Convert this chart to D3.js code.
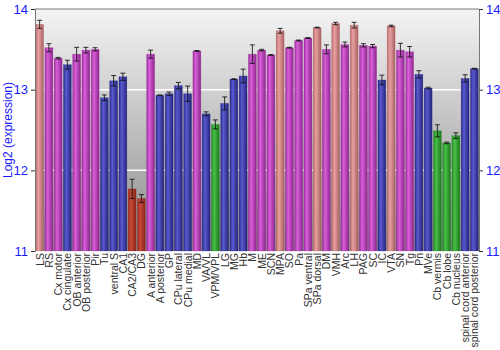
<!DOCTYPE html>
<html><head><meta charset="utf-8">
<script src="https://cdn.jsdelivr.net/npm/d3@7"></script>
<style>body{margin:0;background:#fff}</style>
</head><body><svg id="c" width="500" height="350"></svg>
<script>
const categories = ["LS","RS","Cx motor","Cx cingulate","OB anterior","OB posterior","Pir","Tu","ventral S","CA1","CA2/CA3","DG","A anterior","A posterior","GP","CPu lateral","CPu medial","MD","VA/VL","VPM/VPL","LG","MG","Hb","M","ME","SCN","MPA","SO","Pa","SPa ventral","SPa dorsal","DM","VMH","Arc","LH","PAG","SC","IC","VTA","SN","Tg","Pn","MVe","Cb vermis","Cb lobe","Cb nucleus","spinal cord anterior","spinal cord posterior"];
const values = [13.81,13.52,13.39,13.31,13.44,13.49,13.50,12.90,13.11,13.16,11.77,11.65,13.44,12.93,12.95,13.05,12.95,13.48,12.70,12.57,12.83,13.13,13.17,13.44,13.49,13.43,13.73,13.52,13.61,13.64,13.77,13.50,13.82,13.56,13.80,13.55,13.54,13.12,13.79,13.49,13.47,13.19,13.02,12.49,12.34,12.43,13.14,13.26];
const errors = [0.05,0.05,0.01,0.055,0.085,0.035,0.02,0.035,0.065,0.045,0.12,0.05,0.05,0.005,0.02,0.04,0.095,0.005,0.025,0.055,0.08,0.005,0.085,0.115,0.01,0.005,0.03,0.005,0.005,0.005,0.005,0.055,0.015,0.03,0.035,0.02,0.02,0.06,0.01,0.085,0.065,0.045,0.01,0.075,0.01,0.035,0.045,0.005];
const groups = ["s","m","m","b","m","m","m","b","b","b","r","r","m","b","b","b","b","m","b","g","b","b","b","m","m","m","s","m","m","m","s","m","s","m","s","m","m","b","s","m","m","b","b","g","g","g","b","b"];
const yTicks = [11,12,13,14];
const yLabel = "Log2 (expression)";

const palette = {
  b:["#2a2a8c","#5a5ad0","#24247a"],
  m:["#a02ca0","#d860d8","#8e248e"],
  s:["#b86a6a","#e8a0a0","#a86060"],
  r:["#9a2a1e","#c8483a","#8a2418"],
  g:["#238a23","#48c048","#1c781c"]
};

const svg = d3.select("#c");
const m = {l:35, r:21, t:9, b:99};
const W = 500, H = 350;
const x = d3.scaleBand().domain(categories).range([m.l, W-m.r]).paddingInner(0.14).paddingOuter(0.07);
const y = d3.scaleLinear().domain([11,14]).range([H-m.b, m.t]);

const defs = svg.append("defs");
const bg = defs.append("linearGradient").attr("id","bg").attr("x1",0).attr("y1",0).attr("x2",0).attr("y2",1);
bg.append("stop").attr("offset","0%").attr("stop-color","#f4f4f4");
bg.append("stop").attr("offset","100%").attr("stop-color","#8a8a8a");
Object.entries(palette).forEach(([k,c])=>{
  const g = defs.append("linearGradient").attr("id","g"+k).attr("x1",0).attr("y1",0).attr("x2",1).attr("y2",0);
  g.append("stop").attr("offset","0%").attr("stop-color",c[0]);
  g.append("stop").attr("offset","35%").attr("stop-color",c[1]);
  g.append("stop").attr("offset","100%").attr("stop-color",c[2]);
});

svg.append("rect").attr("x",m.l).attr("y",m.t).attr("width",W-m.r-m.l).attr("height",H-m.b-m.t).attr("fill","url(#bg)");

svg.append("g").selectAll("line").data(yTicks.filter(t=>t>11&&t<14)).join("line")
  .attr("x1",m.l).attr("x2",W-m.r).attr("y1",d=>y(d)).attr("y2",d=>y(d))
  .attr("stroke","#fff").attr("stroke-width",1.5);

svg.append("g").selectAll("rect").data(categories).join("rect")
  .attr("x",d=>x(d)).attr("width",x.bandwidth())
  .attr("y",(d,i)=>y(values[i])).attr("height",(d,i)=>y(11)-y(values[i]))
  .attr("fill",(d,i)=>"url(#g"+groups[i]+")")
  .attr("stroke",(d,i)=>palette[groups[i]][2]).attr("stroke-opacity",0.4).attr("stroke-width",0.6);

const eb = svg.append("g").attr("stroke","#111").attr("stroke-width",1).attr("stroke-opacity",0.85);
categories.forEach((d,i)=>{
  const cx = x(d)+x.bandwidth()/2;
  const y1 = y(values[i]+errors[i]), y2 = y(values[i]-errors[i]);
  eb.append("line").attr("x1",cx).attr("x2",cx).attr("y1",y1).attr("y2",y2);
  eb.append("line").attr("x1",cx-2.5).attr("x2",cx+2.5).attr("y1",y1).attr("y2",y1);
  eb.append("line").attr("x1",cx-2.5).attr("x2",cx+2.5).attr("y1",y2).attr("y2",y2);
});

const left = svg.append("g").attr("transform",`translate(${m.l},0)`)
  .call(d3.axisLeft(y).tickValues(yTicks).tickFormat(d3.format("d")).tickSize(4).tickPadding(3));
const right = svg.append("g").attr("transform",`translate(${W-m.r},0)`)
  .call(d3.axisRight(y).tickValues(yTicks).tickFormat(d3.format("d")).tickSize(4).tickPadding(3));
[left,right].forEach(a=>{
  a.select(".domain").attr("stroke","#777");
  a.selectAll(".tick line").attr("stroke","#333");
  a.selectAll("text").attr("fill","#1a1aff").style("font-family","Liberation Sans, Arial, sans-serif").style("font-size","13px");
});
svg.append("line").attr("x1",m.l).attr("x2",W-m.r).attr("y1",m.t).attr("y2",m.t).attr("stroke","#777");

svg.append("g").selectAll("text").data(categories).join("text")
  .attr("transform",d=>`translate(${x(d)+x.bandwidth()/2+4},${H-m.b+2}) rotate(-90)`)
  .attr("text-anchor","end")
  .attr("fill","#333")
  .style("font-family","Liberation Sans, Arial, sans-serif").style("font-size","10.5px")
  .text(d=>d);

svg.append("text").attr("transform",`translate(12,${(m.t+H-m.b)/2}) rotate(-90)`)
  .attr("text-anchor","middle").attr("fill","#1a1aff")
  .style("font-family","Liberation Sans, Arial, sans-serif").style("font-size","12px")
  .text(yLabel);
</script></body></html>
